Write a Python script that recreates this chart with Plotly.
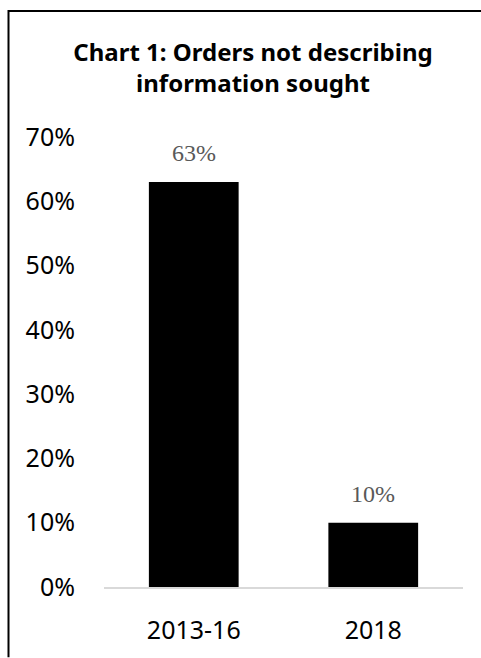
import plotly.graph_objects as go

categories = ["2013-16", "2018"]
values = [0.63, 0.10]
labels = ["63%", "10%"]
title_text = "Chart 1: Orders not describing<br>information sought"

W, H = 481, 658
L, R, T, B = 104, 18, 137, 66

fig = go.Figure()
fig.add_trace(go.Bar(
    x=categories, y=values,
    marker=dict(color="#000000", line=dict(width=0)),
    hoverinfo="skip",
))

for i, (v, t) in enumerate(zip(values, labels)):
    fig.add_annotation(
        x=i, y=v, xref="x", yref="y", text=t, showarrow=False,
        yanchor="bottom", yshift=14,
        font=dict(family="Liberation Serif", size=24, color="#595959"),
    )

pw = W - L - R
ph = H - T - B
def px_x(x):
    return (x - L) / pw
def px_y(y):
    return (H - B - y) / ph

# outer frame: only the top and left edges fall inside the picture
fig.add_shape(type="line", xref="paper", yref="paper",
              x0=px_x(8.5), x1=px_x(W + 5), y0=px_y(9.5), y1=px_y(9.5),
              line=dict(color="#000000", width=2), layer="above")
fig.add_shape(type="line", xref="paper", yref="paper",
              x0=px_x(8.5), x1=px_x(8.5), y0=px_y(8.5), y1=px_y(H + 5),
              line=dict(color="#000000", width=2), layer="above")

fig.update_layout(
    width=W, height=H,
    margin=dict(l=L, r=R, t=T, b=B),
    paper_bgcolor="white", plot_bgcolor="white",
    showlegend=False,
    bargap=0.5,
    title=dict(text=title_text, x=253 / W, xanchor="center", xref="container",
               y=1 - 61 / H, yanchor="top",
               font=dict(family="Noto Sans", size=24, color="#000000", weight="bold")),
    font=dict(family="Noto Sans", color="#000000"),
    xaxis=dict(type="category", categoryorder="array", categoryarray=categories,
               range=[-0.5, len(categories) - 0.5],
               showline=True, linecolor="#d9d9d9", linewidth=1.5,
               ticks="", showgrid=False, ticklabelstandoff=20,
               tickfont=dict(family="Noto Sans", size=25, color="#000000")),
    yaxis=dict(range=[0, 0.7], dtick=0.1, tickformat=".0%", showgrid=False,
               zeroline=False, showline=False, ticks="",
               ticklabelstandoff=28,
               tickfont=dict(family="Noto Sans", size=25, color="#000000")),
)

fig.write_html("out.html",
               config={"displayModeBar": False, "staticPlot": True},
               post_script="document.body.style.margin='0';document.body.style.overflow='hidden';")
